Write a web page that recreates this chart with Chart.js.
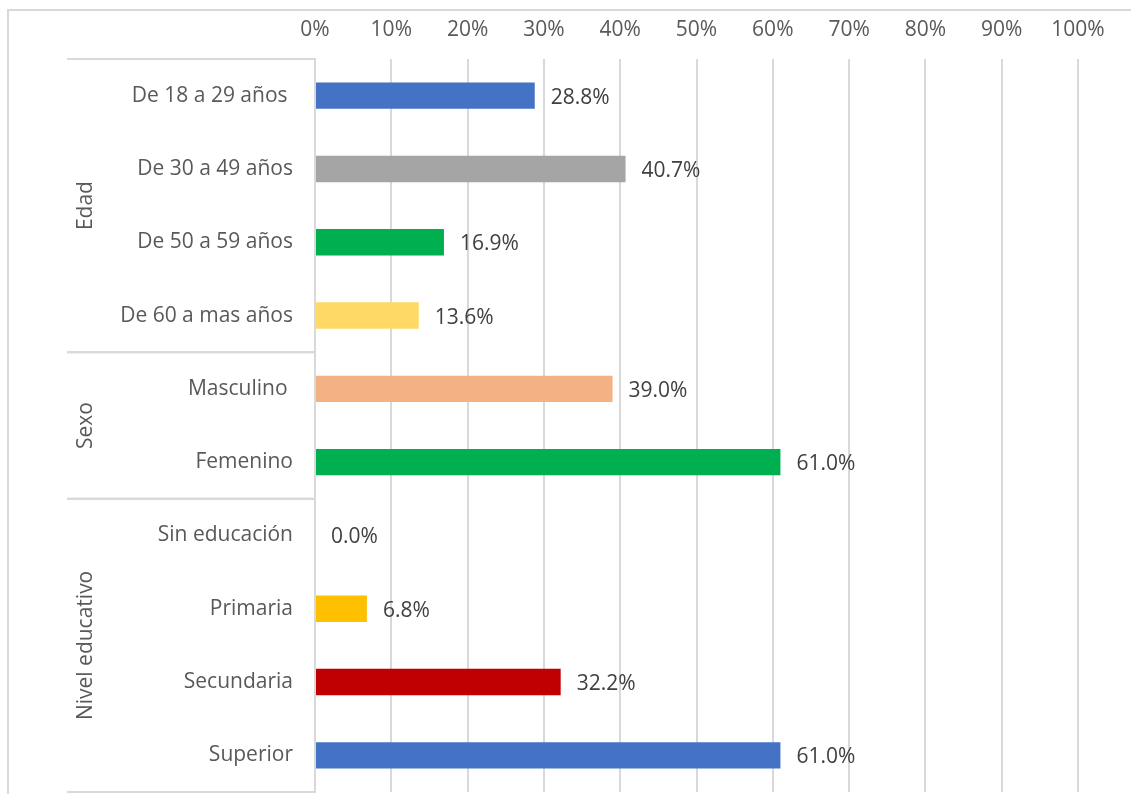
<!DOCTYPE html>
<html>
<head>
<meta charset="utf-8">
<script src="https://cdn.jsdelivr.net/npm/chart.js@4"></script>
<style>
  html, body { margin: 0; padding: 0; background: #fff; }
  #wrap { width: 1131px; height: 794px; position: relative; }
</style>
</head>
<body>
<div id="wrap"><canvas id="barChart"></canvas></div>
<script>
const categories = [
  "De 18 a 29 años ", "De 30 a 49 años", "De 50 a 59 años", "De 60 a mas años",
  "Masculino ", "Femenino",
  "Sin educación", "Primaria", "Secundaria", "Superior"
];
const values = [28.8, 40.7, 16.9, 13.6, 39.0, 61.0, 0.0, 6.8, 32.2, 61.0];
const barColors = [
  "#4472C4", "#A5A5A5", "#00B050", "#FFD966",
  "#F4B183", "#00B050",
  "#FFC000", "#FFC000", "#C00000", "#4472C4"
];
// groups: label + first/last category index
const groupNames = ["Edad", "Sexo", "Nivel educativo"];
const groupStart = [0, 4, 6];
const groupEnd = [3, 5, 9];
const tickValues = [0, 10, 20, 30, 40, 50, 60, 70, 80, 90, 100];

const FONT = "'Open Sans', sans-serif";
const lineColor = "#D9D9D9";

const frame = {
  id: "frame",
  beforeDraw(chart) {
    const c = chart.ctx;
    c.save();
    c.strokeStyle = lineColor;
    c.lineWidth = 2;
    c.beginPath();
    c.moveTo(8, 800);
    c.lineTo(8, 10);
    c.lineTo(1140, 10);
    c.stroke();
    c.restore();
  }
};

const groups = {
  id: "groups",
  afterDraw(chart) {
    const c = chart.ctx;
    const y = chart.scales.y;
    const x0 = chart.chartArea.left;
    const half = (y.getPixelForValue(1) - y.getPixelForValue(0)) / 2;
    c.save();
    c.strokeStyle = lineColor;
    c.lineWidth = 2;
    c.fillStyle = "#595959";
    c.font = "21px " + FONT;
    c.textAlign = "center";
    c.textBaseline = "middle";
    groupNames.forEach((name, i) => {
      const top = y.getPixelForValue(groupStart[i]) - half;
      const bot = y.getPixelForValue(groupEnd[i]) + half;
      c.beginPath();
      c.moveTo(67, top);
      c.lineTo(x0, top);
      c.moveTo(67, bot);
      c.lineTo(x0, bot);
      c.stroke();
      c.save();
      c.translate(86, (top + bot) / 2);
      c.rotate(-Math.PI / 2);
      c.fillText(name, 0, 0);
      c.restore();
    });
    c.restore();
  }
};

const valueLabels = {
  id: "valueLabels",
  afterDatasetsDraw(chart) {
    const c = chart.ctx;
    const meta = chart.getDatasetMeta(0);
    c.save();
    c.fillStyle = "#404040";
    c.font = "21px " + FONT;
    c.textAlign = "left";
    c.textBaseline = "middle";
    meta.data.forEach((bar, i) => {
      c.fillText(values[i].toFixed(1) + "%", bar.x + 16, bar.y + 2);
    });
    c.restore();
  }
};

new Chart(document.getElementById("barChart"), {
  type: "bar",
  data: {
    labels: categories,
    datasets: [{
      data: values,
      backgroundColor: barColors,
      categoryPercentage: 1,
      barPercentage: 0.36
    }]
  },
  options: {
    indexAxis: "y",
    responsive: true,
    maintainAspectRatio: false,
    animation: false,
    layout: { padding: { top: 10, right: 53, bottom: 2, left: 0 } },
    plugins: { legend: { display: false }, tooltip: { enabled: false } },
    scales: {
      x: {
        position: "top",
        min: 0,
        max: 100,
        afterBuildTicks: (s) => { s.ticks = tickValues.map(v => ({ value: v })); },
        afterFit: (s) => { s.height = 49; s.paddingLeft = 0; s.paddingRight = 0; },
        ticks: {
          color: "#595959",
          font: { family: FONT, size: 21 },
          padding: 16,
          callback: (v) => v + "%"
        },
        grid: { color: lineColor, lineWidth: 2, drawTicks: false },
        border: { display: false }
      },
      y: {
        afterFit: (s) => { s.width = 315; s.paddingTop = 0; s.paddingBottom = 0; },
        ticks: {
          color: "#595959",
          font: { family: FONT, size: 21 },
          padding: 22
        },
        grid: { display: false, drawTicks: false },
        border: { color: lineColor, width: 2 }
      }
    }
  },
  plugins: [frame, groups, valueLabels]
});
</script>
</body>
</html>
